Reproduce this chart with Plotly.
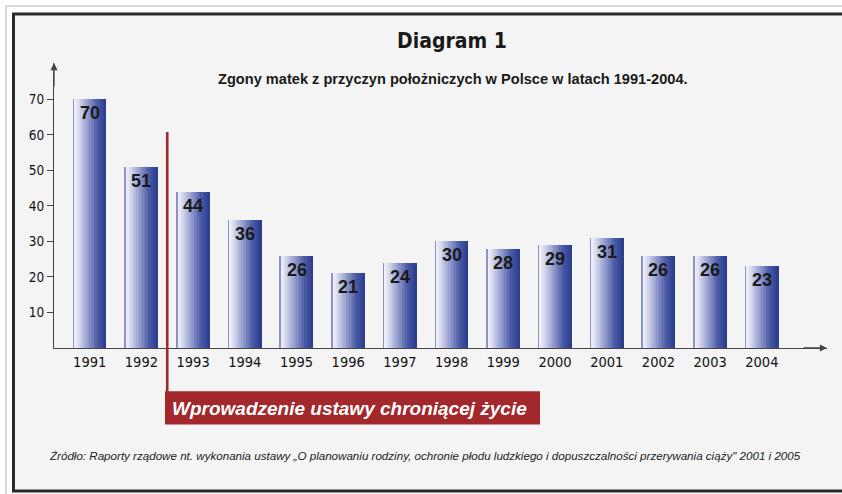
import plotly.graph_objects as go

# ---- data ----
years = ["1991", "1992", "1993", "1994", "1995", "1996", "1997",
         "1998", "1999", "2000", "2001", "2002", "2003", "2004"]
deaths = [70, 51, 44, 36, 26, 21, 24, 30, 28, 29, 31, 26, 26, 23]
y_ticks = [10, 20, 30, 40, 50, 60, 70]

title = "Diagram 1"
subtitle = "Zgony matek z przyczyn położniczych w Polsce w latach 1991-2004."
law_label = "Wprowadzenie ustawy chroniącej życie"
source = ("Źródło: Raporty rządowe nt. wykonania ustawy „O planowaniu rodziny, ochronie płodu "
          "ludzkiego i dopuszczalności przerywania ciąży\" 2001 i 2005")

NARROW = "Liberation Sans Narrow, DejaVu Sans Condensed, Arial Narrow, Liberation Sans, Arial, sans-serif"
SANS = "Liberation Sans, Arial, Helvetica, sans-serif"

# ---- layout geometry (pixels) ----
W, H = 842, 494
L, R, T, B = 54, 827, 63, 348.3
YMAX = 80.2


def px2x(px):
    return (px - L) / (R - L)


def py2y(py):
    return (B - py) / (B - T)


# gradient across each bar (left -> right)
stops = [(0.0, (0x4e, 0x5c, 0xa4)), (0.06, (0xf0, 0xf1, 0xf8)), (0.16, (0xdc, 0xdf, 0xf0)),
         (0.45, (0x96, 0x9e, 0xcf)), (0.75, (0x4a, 0x5a, 0xa6)), (1.0, (0x29, 0x3c, 0x8c))]


def grad(t):
    for (t0, c0), (t1, c1) in zip(stops[:-1], stops[1:]):
        if t0 <= t <= t1:
            f = (t - t0) / (t1 - t0) if t1 > t0 else 0
            c = [round(a + (b - a) * f) for a, b in zip(c0, c1)]
            return "rgb(%d,%d,%d)" % tuple(c)
    return "rgb(%d,%d,%d)" % stops[-1][1]


fig = go.Figure()
BW = 0.64
N = 22
sw = BW / N
for i in range(N):
    fig.add_trace(go.Bar(
        x=years, y=deaths,
        width=sw * 1.15, offset=-BW / 2 + i * sw,
        marker=dict(color=grad((i + 0.5) / N), line=dict(width=0)),
        hoverinfo="skip", showlegend=False,
    ))

annotations = []
for idx, v in enumerate(deaths):
    annotations.append(dict(
        x=idx, y=v, xref="x", yref="y", text="<b>%d</b>" % v, showarrow=False,
        yanchor="top", yshift=-2,
        font=dict(family=SANS, size=18, color="#1a1a1a"),
    ))

# axis arrows
annotations.append(dict(x=0, y=1, xref="paper", yref="paper", ax=0, ay=25,
                        showarrow=True, arrowhead=2, arrowsize=1.1, arrowwidth=1.3,
                        arrowcolor="#444", text=""))
annotations.append(dict(x=1, y=0, xref="paper", yref="paper", ax=-25, ay=0,
                        showarrow=True, arrowhead=2, arrowsize=1.1, arrowwidth=1.3,
                        arrowcolor="#444", text=""))

# titles
annotations.append(dict(x=px2x(452), y=py2y(41), xref="paper", yref="paper",
                        xanchor="center", yanchor="middle",
                        text="<b>" + title + "</b>", showarrow=False,
                        font=dict(family=NARROW, size=21, color="#1a1a1a")))
annotations.append(dict(x=px2x(453), y=py2y(79), xref="paper", yref="paper",
                        xanchor="center", yanchor="middle",
                        text="<b>" + subtitle + "</b>", showarrow=False,
                        font=dict(family=SANS, size=14.6, color="#1a1a1a")))
# law label
annotations.append(dict(x=px2x(170), y=py2y(408.5), xref="paper", yref="paper",
                        xanchor="left", yanchor="middle",
                        text="<b><i>" + law_label + "</i></b>", showarrow=False,
                        font=dict(family=SANS, size=19, color="white")))
# source
annotations.append(dict(x=px2x(47), y=py2y(456), xref="paper", yref="paper",
                        xanchor="left", yanchor="middle",
                        text="<i>" + source + "</i>", showarrow=False,
                        font=dict(family=SANS, size=11.6, color="#222")))

shapes = [
    # light outer border
    dict(type="line", xref="paper", yref="paper", x0=px2x(6), x1=px2x(6), y0=py2y(6), y1=py2y(500),
         line=dict(color="#d6d6d6", width=2), layer="below"),
    dict(type="line", xref="paper", yref="paper", x0=px2x(6), x1=px2x(860), y0=py2y(6), y1=py2y(6),
         line=dict(color="#d6d6d6", width=2), layer="below"),
    # dark frame
    dict(type="rect", xref="paper", yref="paper", x0=px2x(13.5), x1=px2x(870), y0=py2y(14), y1=py2y(491.5),
         line=dict(color="#2a2a2a", width=3), fillcolor="#f4f4f4", layer="below"),
    # red marker line
    dict(type="line", xref="x", yref="paper", x0=1.5, x1=1.5, y0=py2y(132), y1=py2y(392),
         line=dict(color="#a3282c", width=2.6)),
    # red label box
    dict(type="rect", xref="paper", yref="paper", x0=px2x(165), x1=px2x(540), y0=py2y(391.5), y1=py2y(425),
         line=dict(width=0), fillcolor="#a3282c"),
]

fig.update_layout(
    width=W, height=H,
    margin=dict(l=L, r=W - R, t=T, b=H - B),
    paper_bgcolor="white", plot_bgcolor="rgba(0,0,0,0)",
    barmode="overlay", bargap=0,
    showlegend=False,
    annotations=annotations, shapes=shapes,
    xaxis=dict(type="category", range=[-0.69, 14.26], showgrid=False, zeroline=False,
               showline=True, linecolor="#444", linewidth=1.3, ticks="",
               tickfont=dict(family=NARROW, size=14.5, color="#111"),
               fixedrange=True),
    yaxis=dict(range=[0, YMAX], showgrid=False, zeroline=False, tickvals=y_ticks,
               showline=True, linecolor="#444", linewidth=1.3, ticks="outside", ticklen=6,
               tickcolor="#444", tickwidth=1.3,
               tickfont=dict(family=NARROW, size=13.5, color="#111"),
               fixedrange=True),
)

fig.write_html("out.html", config={"displayModeBar": False},
               post_script="document.body.style.margin='0';document.body.style.overflow='hidden';")
